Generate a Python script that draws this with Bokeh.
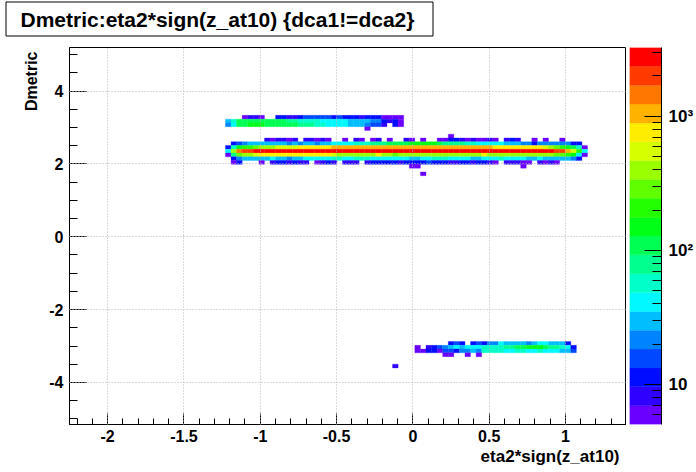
import math
import colorsys
from bokeh.plotting import figure
from bokeh.models import (ColumnDataSource, Range1d, SingleIntervalTicker, FixedTicker,
                          Title, CustomJSTickFormatter)
from bokeh.transform import log_cmap
from bokeh.layouts import row, column
from bokeh.core.properties import value
from bokeh.embed import file_html
from bokeh.resources import INLINE

# ---- histogram binning (100 x 100 bins) ----
x_min, x_max, n_x = -2.25, 1.40, 100
y_min, y_max, n_y = -5.155, 5.195, 100
z_min, z_max = 5.05, 3260.0

# ---- bin contents: (y bin, first x bin, counts along x) ----
band_top = [
    (81, 31, [6, 8, 8, 6, 0, 0, 11, 11, 8, 8, 11, 16, 16, 16, 16, 16, 11, 16, 11, 11, 11, 8, 11, 11, 11, 6, 6, 6, 6]),
    (80, 28, [30, 57, 109, 109, 109, 109, 109, 109, 109, 109, 109, 79, 79, 57, 57, 57, 57, 41, 41, 41, 41, 41,
              30, 30, 30, 30, 22, 22, 11, 8, 11, 6]),
    (79, 28, [22, 41, 109, 109, 151, 151, 151, 109, 109, 109, 109, 109, 109, 79, 79, 79, 57, 57, 41, 41, 41, 41,
              30, 30, 30, 22, 16, 16, 8, 0, 11, 6]),
    (78, 53, [6]),
]

band_main = [
    (76, 68, [6]),
    (75, 35, [8, 6, 8, 8, 6, 8, 0, 8, 8, 6, 8, 6, 0, 0, 6, 0, 8, 6, 0, 6, 8, 0, 6, 0, 0, 8, 6, 0, 6, 0,
              0, 6, 6, 11, 11, 8, 6, 8, 6, 6, 8, 6, 0, 8, 11, 8, 0, 0, 6, 0, 6, 0, 0, 6]),
    (74, 29, [11, 16, 22, 30, 30, 30, 30, 30, 30, 30, 22, 30, 22, 30, 30, 22, 30, 30, 41, 41,
              41, 41, 57, 57, 57, 79, 79, 79, 109, 109, 109, 109, 151, 151, 151, 151, 151, 109, 79, 79,
              79, 79, 57, 57, 41, 41, 41, 41, 41, 30, 30, 30, 22, 22, 11, 22, 22, 22, 22, 22, 22, 11, 11]),
    (73, 28, [11, 57, 151, 208, 208, 288, 398, 398, 398, 550, 550, 550, 550, 760, 760, 760, 760, 760, 760, 1050,
              1050, 1050, 1050, 1050, 1050, 1050, 1050, 1050, 1050, 1050, 1050, 1050, 1050, 1050, 1050, 1050,
              1050, 1050, 1050, 1050, 1050, 1050, 1050, 1050, 1050, 1050, 1050, 1050,
              760, 760, 760, 760, 760, 760, 760, 760, 760, 550, 398, 288, 208, 151, 109, 57, 6]),
    (72, 28, [41, 398, 1450, 2000, 2000] + [2770] * 54 + [2000, 2000, 1050, 550, 208, 41]),
    (71, 28, [6, 79, 288, 398, 398, 550] + [760] * 13 + [550] + [398] * 7 + [760, 398, 398, 288]
             + [398] * 15 + [760] + [398] * 12 + [288, 288, 208, 151, 41, 6]),
    (70, 29, [11, 22, 30, 30, 30, 30, 30, 41, 30, 30, 22, 30, 30, 41, 41, 41, 41, 41, 57, 57,
              41, 41, 57, 57, 57, 41, 41, 41, 41, 41, 41, 41, 30, 30, 41, 41, 57, 57, 57, 41,
              41, 41, 41, 30, 30, 41, 41, 41, 57, 41, 41, 41, 41, 30, 30, 41, 30, 30, 30, 30, 30, 22, 11]),
    (69, 29, [6, 11, 0, 0, 0, 6, 0, 8, 11, 11, 8, 11, 8, 8, 0, 6, 8, 11, 8, 0,
              8, 8, 8, 0, 8, 11, 11, 11, 11, 11, 8, 11, 11, 11, 11, 16, 11, 11, 11, 8,
              8, 11, 11, 8, 11, 11, 8, 6, 0, 8, 8, 8, 6, 6, 0, 8, 6, 8, 6]),
    (68, 61, [6, 6]),
    (68, 81, [6]),
    (66, 63, [6]),
]

band_bottom = [
    (21, 68, [11, 16, 11, 0, 11, 16, 11, 22, 22, 41, 30, 30, 30, 30, 22, 30, 41, 41, 30, 30, 30, 11]),
    (20, 62, [6, 0, 8, 11, 16, 22, 30, 41, 30, 41, 41, 41, 57, 57, 57, 57, 79, 79, 109, 109,
              151, 151, 151, 109, 79, 79, 57, 41, 11]),
    (19, 62, [6, 6, 11, 11, 6, 16, 16, 11, 22, 22, 30, 22, 57, 57, 57, 57, 41, 41, 57, 57,
              41, 41, 57, 41, 41, 41, 30, 30, 16]),
    (18, 67, [6, 6, 0, 0, 6, 0, 6]),
    (15, 58, [8]),
]

z_major = [10, 100, 1000]
z_labels = ["10", "10\u00b2", "10\u00b3"]

title_text = "Dmetric:eta2*sign(z_at10) {dca1!=dca2}"
x_title = "eta2*sign(z_at10)"
y_title = "Dmetric"

FONT = "Liberation Sans"

# ---- palette: 20 levels, violet -> red ----
palette = []
for i in range(20):
    h = (265.0 - i * 265.0 / 19.0) / 360.0
    r, g, b = colorsys.hsv_to_rgb(h, 1.0, 1.0)
    palette.append("#%02x%02x%02x" % (int(round(r * 255)), int(round(g * 255)), int(round(b * 255))))

dx = (x_max - x_min) / n_x
dy = (y_max - y_min) / n_y
L, R, B, T, C = [], [], [], [], []
for iy, ix0, vals in band_top + band_main + band_bottom:
    for j, c in enumerate(vals):
        if c <= 0:
            continue
        ix = ix0 + j
        L.append(x_min + ix * dx)
        R.append(x_min + (ix + 1) * dx)
        B.append(y_min + iy * dy)
        T.append(y_min + (iy + 1) * dy)
        C.append(c)
src = ColumnDataSource(dict(left=L, right=R, bottom=B, top=T, count=C))

W_TOTAL = 696
TH = 38                      # height of the title strip
FRAME_W, FRAME_H = 557, 377
BL, BT, BB = 69, 47 - TH, 46

# ---- title strip (pixel coordinates, y downwards) ----
tf = figure(width=W_TOTAL, height=TH, x_range=Range1d(0, W_TOTAL), y_range=Range1d(TH, 0),
            toolbar_location=None, output_backend="svg", title=None,
            min_border_left=0, min_border_right=0, min_border_top=0, min_border_bottom=0)
tf.axis.visible = False
tf.grid.visible = False
tf.outline_line_color = None
tf.background_fill_color = "white"
tf.border_fill_color = "white"
tf.quad(left=[5.5], right=[432.5], top=[1.5], bottom=[35.5], fill_color="white",
        line_color="black", line_width=1)
tf.text(x=[20], y=[18.5], text=[title_text], text_font=value(FONT), text_font_style="bold",
        text_font_size="21px", text_align="left", text_baseline="middle", text_color="black")

p = figure(frame_width=FRAME_W, frame_height=FRAME_H,
           x_range=Range1d(x_min, x_max), y_range=Range1d(y_min, y_max),
           toolbar_location=None, output_backend="svg", title=None,
           min_border_left=BL, min_border_right=0, min_border_top=BT, min_border_bottom=BB)
p.background_fill_color = "white"
p.border_fill_color = "white"
p.outline_line_color = "black"
p.outline_line_width = 1

cmap = log_cmap("count", palette, z_min, z_max)
p.quad(left="left", right="right", bottom="bottom", top="top", source=src,
       fill_color=cmap, line_color=cmap, line_width=0.3)

fmt = CustomJSTickFormatter(code="return String(Math.round(tick*100)/100);")
p.xaxis.ticker = SingleIntervalTicker(interval=0.5, num_minor_ticks=5)
p.yaxis.ticker = SingleIntervalTicker(interval=2, num_minor_ticks=4)
p.xaxis.formatter = fmt
p.yaxis.formatter = fmt
for ax in (p.xaxis, p.yaxis):
    ax.axis_line_color = "black"
    ax.major_tick_line_color = "black"
    ax.minor_tick_line_color = "black"
    ax.major_tick_out = 0
    ax.minor_tick_out = 0
    ax.major_label_text_font = FONT
    ax.major_label_text_font_style = "bold"
    ax.major_label_text_font_size = "16px"
    ax.major_label_text_color = "black"
p.xaxis.major_tick_in = 11
p.xaxis.minor_tick_in = 6
p.yaxis.major_tick_in = 17
p.yaxis.minor_tick_in = 8
p.xaxis.major_label_standoff = 5
p.yaxis.major_label_standoff = 6

p.xgrid.ticker = p.xaxis.ticker
p.ygrid.ticker = p.yaxis.ticker
for g in (p.xgrid, p.ygrid):
    g.grid_line_color = "#b4b4b4"
    g.grid_line_dash = "1 2"
    g.grid_line_width = 1
    g.level = "guide"

p.add_layout(Title(text=x_title, align="right", offset=7, standoff=0,
                   text_font=FONT, text_font_style="bold", text_font_size="17px",
                   text_color="black"), "below")
p.add_layout(Title(text=y_title, align="right", offset=4, standoff=13,
                   text_font=FONT, text_font_style="bold", text_font_size="16px",
                   text_color="black"), "left")

# ---- colour scale ----
lo, hi = math.log10(z_min), math.log10(z_max)
edges = [10 ** (lo + k * (hi - lo) / 20.0) for k in range(21)]
cb = figure(frame_width=32, frame_height=FRAME_H,
            x_range=Range1d(0, 1), y_range=Range1d(z_min, z_max), y_axis_type="log",
            y_axis_location="right", toolbar_location=None, output_backend="svg", title=None,
            min_border_left=3, min_border_right=W_TOTAL - BL - FRAME_W - 35,
            min_border_top=BT, min_border_bottom=BB)
cb.quad(left=0, right=1, bottom=edges[:-1], top=edges[1:], fill_color=palette, line_color=palette,
        line_width=0.3)
cb.xaxis.visible = False
cb.grid.visible = False
cb.outline_line_color = None
cb.background_fill_color = "white"
cb.border_fill_color = "white"
minor = [6, 7, 8, 9] + [k * 10 for k in range(2, 10)] + [k * 100 for k in range(2, 10)] + [2000, 3000]
cb.yaxis.ticker = FixedTicker(ticks=z_major, minor_ticks=minor)
cb.yaxis.formatter = CustomJSTickFormatter(
    args=dict(vals=z_major, labs=z_labels),
    code="const i = vals.indexOf(Math.round(tick)); return i >= 0 ? labs[i] : '';")
cb.yaxis.axis_line_color = "black"
cb.yaxis.major_tick_in = 17
cb.yaxis.major_tick_out = 0
cb.yaxis.minor_tick_in = 9
cb.yaxis.minor_tick_out = 0
cb.yaxis.major_label_standoff = 7
cb.yaxis.major_label_text_font = FONT
cb.yaxis.major_label_text_font_style = "bold"
cb.yaxis.major_label_text_font_size = "17px"
cb.yaxis.major_label_text_color = "black"

layout = column(tf, row(p, cb))
open("out.html", "w").write(file_html(layout, INLINE))
